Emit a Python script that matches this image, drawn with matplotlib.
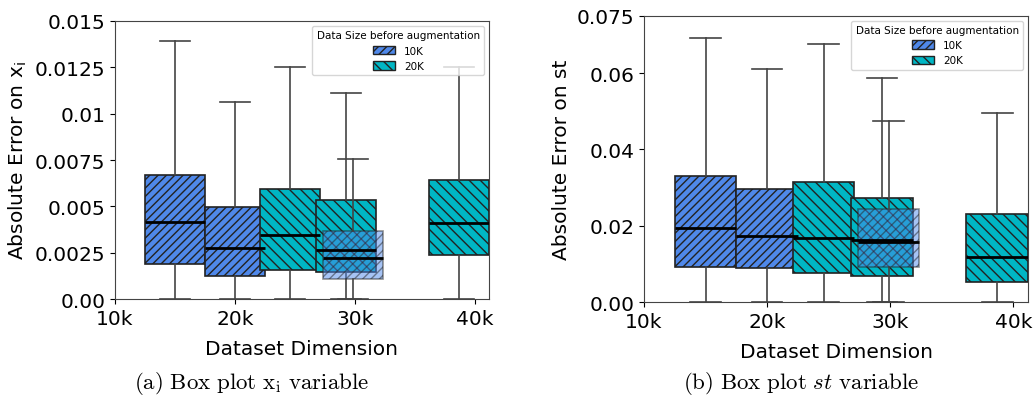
import matplotlib.pyplot as plt

# x positions in thousands (k)
xticks = [10, 20, 30, 40]
xticklabels = ['10k', '20k', '30k', '40k']

# (a) absolute error on x_i
a_pos_10k = [15.0, 20.0, 29.83]
a_lo_10k = [0.0, 0.0, 0.0]
a_q1_10k = [0.00189, 0.00122, 0.00108]
a_med_10k = [0.00417, 0.00273, 0.00223]
a_q3_10k = [0.00671, 0.00498, 0.00367]
a_hi_10k = [0.0139, 0.01063, 0.00755]

a_pos_20k = [24.6, 29.3, 38.67]
a_lo_20k = [0.0, 0.0, 0.0]
a_q1_20k = [0.00158, 0.00147, 0.00237]
a_med_20k = [0.00345, 0.00266, 0.00412]
a_q3_20k = [0.00593, 0.00532, 0.00642]
a_hi_20k = [0.0125, 0.01113, 0.0125]

a_yticks = [0, 0.0025, 0.005, 0.0075, 0.01, 0.0125, 0.015]
a_yticklabels = ['0.00', '0.0025', '0.005', '0.0075', '0.01', '0.0125', '0.015']

# (b) absolute error on st
b_pos_10k = [15.0, 20.0, 29.88]
b_lo_10k = [0.0, 0.0, 0.0]
b_q1_10k = [0.00933, 0.0089, 0.00933]
b_med_10k = [0.01936, 0.01727, 0.0157]
b_q3_10k = [0.0331, 0.02965, 0.0245]
b_hi_10k = [0.0692, 0.0610, 0.04744]

b_pos_20k = [24.6, 29.33, 38.7]
b_lo_20k = [0.0, 0.0, 0.0]
b_q1_20k = [0.00759, 0.0068, 0.00523]
b_med_20k = [0.01683, 0.0164, 0.01195]
b_q3_20k = [0.0316, 0.02738, 0.0230]
b_hi_20k = [0.0677, 0.0588, 0.0496]

b_yticks = [0, 0.02, 0.04, 0.06, 0.075]
b_yticklabels = ['0.00', '0.02', '0.04', '0.06', '0.075']

blue = '#4f88ea'
teal = '#00b6c4'
edge = '#222222'
hatch_10k = '////'
hatch_20k = '\\\\\\'
plt.rcParams['hatch.linewidth'] = 1.0


def stats(lo, q1, med, q3, hi):
    return [dict(whislo=a, q1=b, med=c, q3=d, whishi=e, fliers=[])
            for a, b, c, d, e in zip(lo, q1, med, q3, hi)]


def draw(ax, st, pos, color, hatch, z, alpha=1.0):
    ec = (0.15, 0.15, 0.15, alpha) if alpha < 1 else edge
    ax.bxp(st, positions=pos, widths=5, patch_artist=True, showfliers=False,
           manage_ticks=False, zorder=z,
           boxprops=dict(facecolor=color, edgecolor=ec, hatch=hatch,
                         linewidth=1.2, alpha=alpha),
           whiskerprops=dict(color='#444444', linewidth=1.2),
           capprops=dict(color='#444444', linewidth=1.2),
           medianprops=dict(color='black', linewidth=2, zorder=z + 5))


def panel(ax, p10, s10, p20, s20, yticks, ylabels, ylim, ylabel):
    draw(ax, s10[:2], p10[:2], blue, hatch_10k, 2)
    draw(ax, s20, p20, teal, hatch_20k, 3)
    draw(ax, s10[2:], p10[2:], blue, hatch_10k, 4, alpha=0.5)
    ax.set_xlim(10, 41.2)
    ax.set_ylim(*ylim)
    ax.set_xticks(xticks)
    ax.set_xticklabels(xticklabels, fontsize=14.5)
    ax.set_yticks(yticks)
    ax.set_yticklabels(ylabels, fontsize=14.5)
    ax.set_xlabel('Dataset Dimension', fontsize=14.5, labelpad=8)
    ax.set_ylabel(ylabel, fontsize=14.5, math_fontfamily='dejavusans')
    for s in ax.spines.values():
        s.set_color('#444444')
    handles = [plt.Rectangle((0, 0), 1, 1, facecolor=blue, edgecolor=edge, hatch=hatch_10k),
               plt.Rectangle((0, 0), 1, 1, facecolor=teal, edgecolor=edge, hatch=hatch_20k)]
    leg = ax.legend(handles, ['10K', '20K'], title='Data Size before augmentation',
                    loc='upper right', fontsize=7.5, title_fontsize=7.5,
                    handlelength=2.2, handleheight=0.9)
    leg.set_zorder(20)


fig = plt.figure(figsize=(10.33, 4.02), dpi=100)
ax1 = fig.add_axes([0.1113, 0.2537, 0.3621, 0.6916])
ax2 = fig.add_axes([0.6234, 0.2455, 0.3718, 0.7130])

panel(ax1, a_pos_10k, stats(a_lo_10k, a_q1_10k, a_med_10k, a_q3_10k, a_hi_10k),
      a_pos_20k, stats(a_lo_20k, a_q1_20k, a_med_20k, a_q3_20k, a_hi_20k),
      a_yticks, a_yticklabels, (0, 0.015), r'Absolute Error on x$_\mathrm{i}$')
panel(ax2, b_pos_10k, stats(b_lo_10k, b_q1_10k, b_med_10k, b_q3_10k, b_hi_10k),
      b_pos_20k, stats(b_lo_20k, b_q1_20k, b_med_20k, b_q3_20k, b_hi_20k),
      b_yticks, b_yticklabels, (0, 0.075), 'Absolute Error on st')

fig.text(0.244, 0.047, r'$\mathrm{(a)\ Box\ plot\ x_i\ variable}$', ha='center',
         va='center', fontsize=16.5, math_fontfamily='cm')
fig.text(0.776, 0.045, r'$\mathrm{(b)\ Box\ plot\ }st\mathrm{\ variable}$', ha='center',
         va='center', fontsize=16.5, math_fontfamily='cm')

fig.savefig('out.png', dpi=100)
